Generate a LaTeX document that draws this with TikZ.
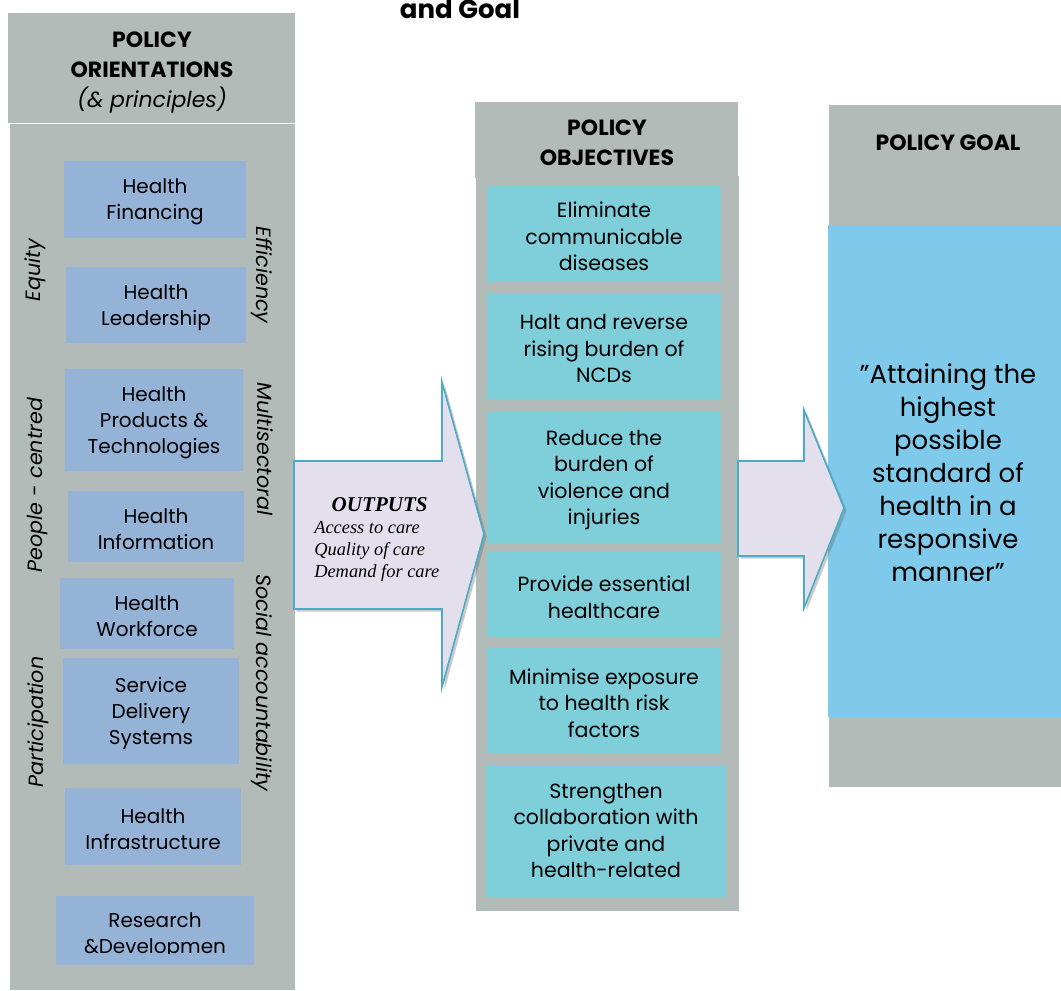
\documentclass[tikz,border=0pt]{standalone}
\usepackage{fontspec}
\setmainfont{Poppins}
\newfontfamily\timesf{Liberation Serif}
\usetikzlibrary{fit,shadows}
\definecolor{colgray}{HTML}{B3BBB8}
\definecolor{boxblue}{HTML}{95B3D7}
\definecolor{objteal}{HTML}{7FCFDA}
\definecolor{goalblue}{HTML}{7FC9EA}
\definecolor{arrfill}{HTML}{E4DFEC}
\definecolor{arrline}{HTML}{4BACC6}
\begin{document}
\begin{tikzpicture}[x=0.75pt,y=-0.75pt,
  colbg/.style={fill=colgray, draw=none, inner sep=0pt},
  sysbox/.style={fill=boxblue, draw=none, inner sep=0pt},
  objbox/.style={fill=objteal, draw=none, inner sep=0pt},
  systxt/.style={align=center, inner sep=0pt, yshift=-2pt, font=\fontsize{15}{19.5}\selectfont},
  objtxt/.style={align=center, inner sep=0pt, yshift=-2pt, font=\fontsize{15.4}{19.8}\selectfont},
  principle/.style={font=\fontsize{15.5}{17}\selectfont\itshape, inner sep=0pt},
  headtext/.style={align=center, font=\fontsize{16.5}{22.5}\selectfont\bfseries, inner sep=0pt},
  bigarrow/.style={fill=arrfill, draw=arrline, line width=1.2pt, line join=miter,
    drop shadow={opacity=0.35, shadow xshift=2pt, shadow yshift=-2pt, fill=black!60}},
]
\useasboundingbox (0,0) rectangle (1061,990);
% title fragment
\node[font=\fontsize{19.5}{21}\selectfont\bfseries, anchor=base, inner sep=0pt] (title) at (460,18) {and Goal};

% ---------- left column ----------
\node[colbg, fit={(8,13) (295,123)}] (lefthead) {};
\node[colbg, fit={(10,124) (295,990)}] (leftbody) {};
\node[headtext] (lefthdtxt) at (152,73) {POLICY\\ORIENTATIONS\\{\mdseries\itshape (\& principles)}};

\node[sysbox, fit={(64,161) (246,238)}] (hf) {};
\node[systxt] (hftxt) at (hf.center) {Health\\Financing};
\node[sysbox, fit={(66,267) (246,343)}] (hl) {};
\node[systxt] (hltxt) at (hl.center) {Health\\Leadership};
\node[sysbox, fit={(65,369) (243,471)}] (hpt) {};
\node[systxt] (hpttxt) at (hpt.center) {Health\\Products \&\\Technologies};
\node[sysbox, fit={(68,491) (244,562)}] (hi) {};
\node[systxt] (hitxt) at (hi.center) {Health\\Information};
\node[sysbox, fit={(60,578) (234,649)}] (hw) {};
\node[systxt] (hwtxt) at (hw.center) {Health\\Workforce};
\node[sysbox, fit={(63,658) (239,764)}] (sds) {};
\node[systxt] (sdstxt) at (sds.center) {Service\\Delivery\\Systems};
\node[sysbox, fit={(65,788) (241,865)}] (hinf) {};
\node[systxt] (hinftxt) at (hinf.center) {Health\\Infrastructure};
\node[sysbox, fit={(56,896) (254,965)}] (rd) {};
\begin{scope}
\clip (56,896) rectangle (254,953);
\node[systxt] (rdtxt) at (155,933) {Research\\\&Developmen};
\end{scope}

\node[principle, rotate=90] (equity) at (35,270) {Equity};
\node[principle, rotate=90] (people) at (38,485) {People - centred};
\node[principle, rotate=90] (particip) at (38,722) {Participation};
\node[principle, rotate=-90] (effic) at (262,275) {Efficiency};
\node[principle, rotate=-90] (multi) at (265,449) {Multisectoral};
\node[principle, rotate=-90] (social) at (262,683) {Social accountability};

% ---------- middle column ----------
\node[colbg, fit={(475,102) (738,178)}] (midhead) {};
\node[colbg, fit={(476,176) (739,911)}] (midbody) {};
\node[headtext] (midhdtxt) at (607,143) {POLICY\\OBJECTIVES};

\node[objbox, fit={(487,186) (721,282)}] (o1) {};
\node[objtxt] (o1txt) at (o1.center) {Eliminate\\communicable\\diseases};
\node[objbox, fit={(487,293) (721,399)}] (o2) {};
\node[objtxt] (o2txt) at (o2.center) {Halt and reverse\\rising burden of\\NCDs};
\node[objbox, fit={(487,412) (721,543)}] (o3) {};
\node[objtxt] (o3txt) at (o3.center) {Reduce the\\burden of\\violence and\\injuries};
\node[objbox, fit={(487,552) (721,637)}] (o4) {};
\node[objtxt] (o4txt) at (o4.center) {Provide essential\\healthcare};
\node[objbox, fit={(487,648) (721,753)}] (o5) {};
\node[objtxt] (o5txt) at (o5.center) {Minimise exposure\\to health risk\\factors};
\node[objbox, fit={(486,765) (726,897)}] (o6) {};
\node[objtxt] (o6txt) at (606,828) {Strengthen\\collaboration with\\private and\\health-related};

% ---------- right column ----------
\node[colbg, fit={(829,105) (1061,787)}] (goalbg) {};
\node[fill=goalblue, inner sep=0pt, fit={(828,225) (1061,717)}] (goalbox) {};
\node[headtext] (goalhd) at (948,143) {POLICY GOAL};
\node[align=center, font=\fontsize{19.5}{24.7}\selectfont, inner sep=0pt] (goaltxt) at (948,473)
  {''Attaining the\\highest\\possible\\standard of\\health in a\\responsive\\manner''};

% ---------- arrows ----------
\draw[bigarrow] (294,461) -- (442,461) -- (442,382) -- (484,534) -- (442,687) -- (442,609) -- (294,609) -- cycle;
\node[align=left, anchor=north west, inner sep=0pt, font=\timesf\fontsize{13.8}{16.5}\selectfont\itshape] (outputs) at (314,497)
  {\hspace*{0.95em}{\bfseries\fontsize{15.8}{16.5}\selectfont OUTPUTS}\\Access to care\\Quality of care\\Demand for care};

\draw[bigarrow] (738,461) -- (804,461) -- (804,410) -- (844,508) -- (804,608) -- (804,556) -- (738,556) -- cycle;
\end{tikzpicture}
\end{document}
